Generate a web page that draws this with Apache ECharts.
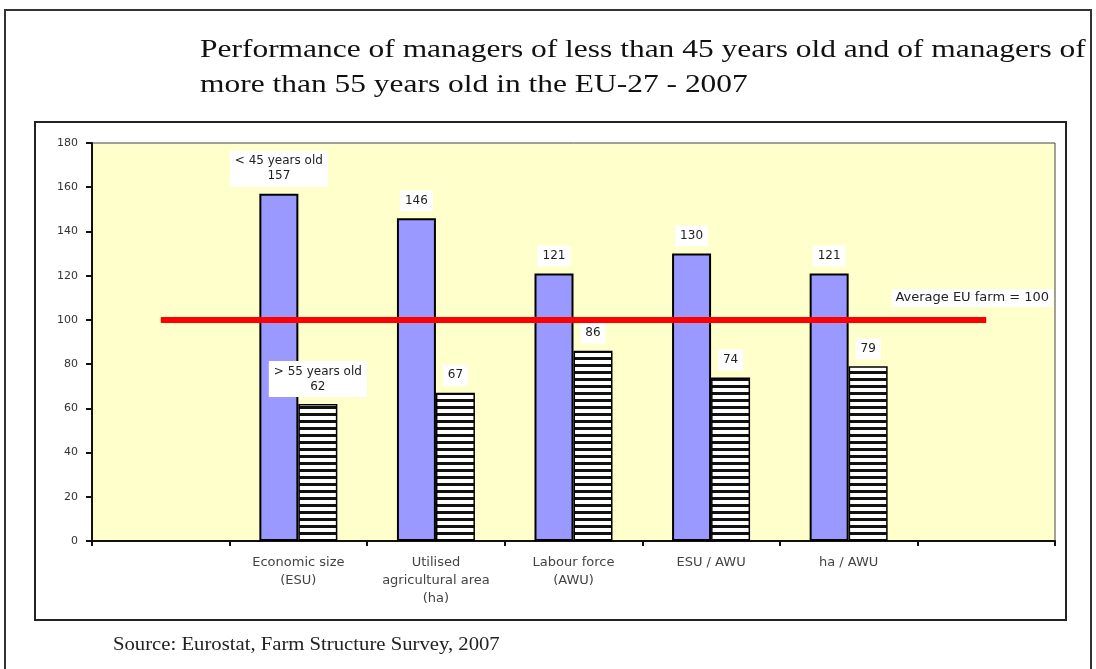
<!DOCTYPE html>
<html>
<head>
<meta charset="utf-8">
<script src="https://cdn.jsdelivr.net/npm/echarts@6/dist/echarts.min.js"></script>
<style>
html,body{margin:0;padding:0;background:#fff;}
#chart{width:1096px;height:669px;}
</style>
</head>
<body>
<div id="chart"></div>
<script>
// ---- data ----
var categories = ['', 'Economic size\n(ESU)', 'Utilised\nagricultural area\n(ha)', 'Labour force\n(AWU)', 'ESU / AWU', 'ha / AWU', ' '];
var under45 = [null, 157, 146, 121, 130, 121, null];
var over55 = [null, 62, 67, 86, 74, 79, null];
var averageLevel = 100;
var yTicks = [0, 20, 40, 60, 80, 100, 120, 140, 160, 180];
var titleText = 'Performance of managers of less than 45 years old and of managers of\nmore than 55 years old in the EU-27 - 2007';
var sourceText = 'Source: Eurostat, Farm Structure Survey, 2007';
var under45Name = '< 45 years old';
var over55Name = '> 55 years old';
var averageName = 'Average EU farm = 100';

// stripe pattern for the > 55 series
var pc = document.createElement('canvas');
pc.width = 4; pc.height = 7;
var ctx = pc.getContext('2d');
ctx.fillStyle = '#ffffff'; ctx.fillRect(0, 0, 4, 7);
ctx.fillStyle = '#111111'; ctx.fillRect(0, 0, 4, 3);

var SANS = '"DejaVu Sans", Verdana, sans-serif';
var chart = echarts.init(document.getElementById('chart'));

var lbl = {
  show: true, position: 'top', distance: 7,
  color: '#222', fontFamily: SANS, fontSize: 12,
  backgroundColor: '#ffffff', padding: [3, 5, 3, 5], lineHeight: 15, align: 'center'
};

var averageLine = categories.map(function (c, i) { return (i === 0 || i === categories.length - 1) ? averageLevel : null; });

chart.setOption({
  animation: false,
  backgroundColor: '#ffffff',
  graphic: [
    { type: 'rect', shape: { x: 5, y: 10, width: 1086, height: 665 }, style: { fill: 'none', stroke: '#333', lineWidth: 2 }, z: -10 },
    { type: 'rect', shape: { x: 35, y: 122, width: 1031, height: 498 }, style: { fill: '#fff', stroke: '#222', lineWidth: 2 }, z: -10 },
    { type: 'text', x: 200, y: 33, scaleX: 1.21, style: { text: titleText, font: '26px "Liberation Serif", "Times New Roman", serif', fill: '#111', lineHeight: 35 } },
    { type: 'text', x: 113, y: 636, scaleX: 1.15, style: { text: sourceText, font: '18px "Liberation Serif", "Times New Roman", serif', fill: '#222' } }
  ],
  grid: { left: 92, right: 41, top: 143, bottom: 128, show: true, backgroundColor: '#FFFFCC', borderColor: '#444', borderWidth: 1 },
  xAxis: {
    type: 'category', data: categories,
    axisLine: { lineStyle: { color: '#111', width: 2 } },
    axisTick: { show: true, length: 5, lineStyle: { color: '#111', width: 2 } },
    axisLabel: { color: '#444', fontSize: 13, fontFamily: SANS, lineHeight: 18, margin: 13, interval: 0 }
  },
  yAxis: {
    type: 'value', min: 0, max: 180, interval: 20,
    splitLine: { show: false },
    axisLine: { show: true, lineStyle: { color: '#111', width: 2 } },
    axisTick: { show: true, length: 6, lineStyle: { color: '#111', width: 2 } },
    axisLabel: { color: '#333', fontSize: 11, fontFamily: SANS, margin: 14,
      formatter: function (v) { return yTicks.indexOf(v) >= 0 ? String(v) : ''; } }
  },
  series: [
    {
      name: under45Name, type: 'bar', data: under45, barWidth: 39, barGap: '0%',
      itemStyle: { color: '#9999FF', borderColor: '#000', borderWidth: 2 },
      label: Object.assign({}, lbl, {
        formatter: function (p) { return p.dataIndex === 1 ? under45Name + '\n' + p.value : String(p.value); }
      })
    },
    {
      name: over55Name, type: 'bar', data: over55, barWidth: 39,
      itemStyle: { color: { image: pc, repeat: 'repeat' }, borderColor: '#000', borderWidth: 1.5 },
      label: Object.assign({}, lbl, {
        formatter: function (p) { return p.dataIndex === 1 ? over55Name + '\n' + p.value : String(p.value); }
      })
    },
    {
      name: averageName, type: 'line', data: averageLine, connectNulls: true, symbol: 'none',
      lineStyle: { color: '#FF0000', width: 6 }, z: 5,
      markPoint: {
        symbol: 'rect', symbolSize: 0,
        data: [{ coord: [categories.length - 1, averageLevel] }],
        label: { show: true, formatter: averageName, position: 'inside', offset: [-14, -22],
          color: '#222', fontSize: 13, fontFamily: SANS,
          backgroundColor: '#fff', padding: [3, 4, 2, 4] }
      }
    }
  ]
});
</script>
</body>
</html>
